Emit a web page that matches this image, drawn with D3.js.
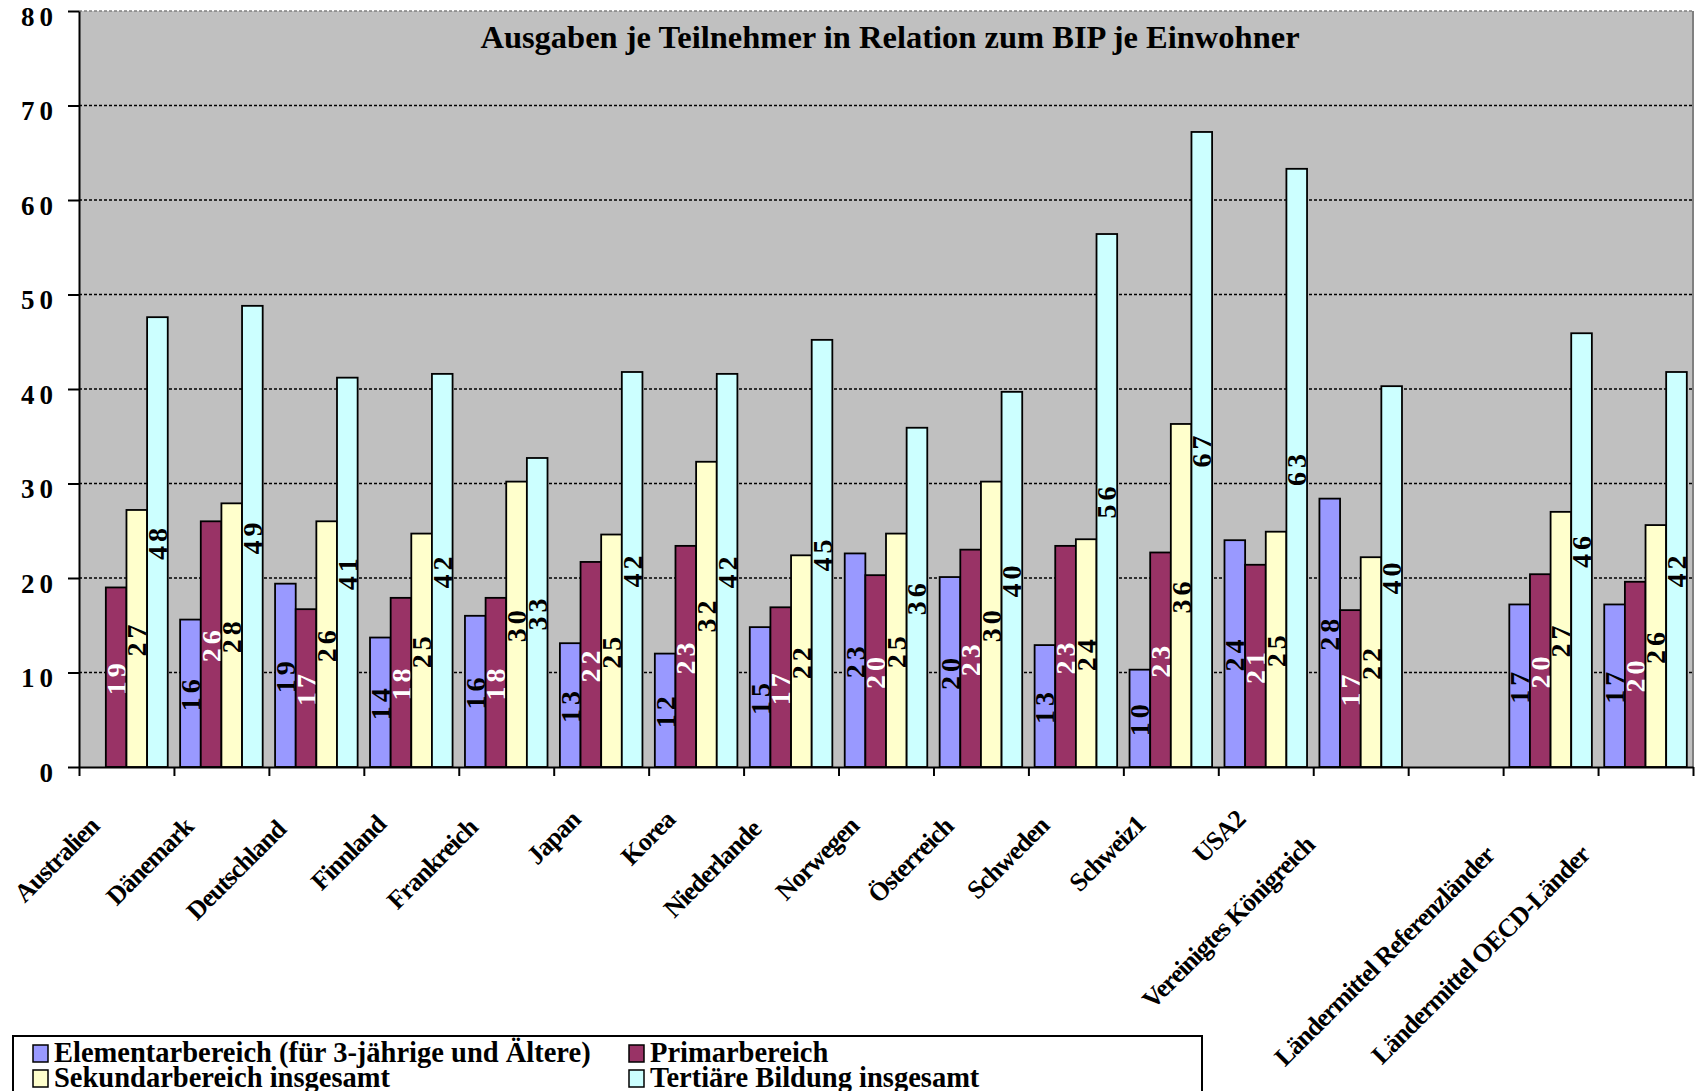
<!DOCTYPE html>
<html>
<head>
<meta charset="utf-8">
<script src="https://cdn.jsdelivr.net/npm/d3@7"></script>
<style>
  body { margin: 0; background: #fff; }
  svg { display: block; font-family: "Liberation Serif", "Times New Roman", serif; font-weight: bold; }
</style>
</head>
<body>
<svg width="1698" height="1091"></svg>
<script>
var categories = ["Australien", "Dänemark", "Deutschland", "Finnland", "Frankreich", "Japan", "Korea",
  "Niederlande", "Norwegen", "Österreich", "Schweden", "Schweiz1", "USA2", "Vereinigtes Königreich", "",
  "Ländermittel Referenzländer", "Ländermittel OECD-Länder"];

var elementar = [null, 15.6, 19.4, 13.7, 16.0, 13.1, 12.0, 14.8, 22.6, 20.1, 12.9, 10.3, 24.0, 28.4, null, 17.2, 17.2];
var primar    = [19.0, 26.0, 16.7, 17.9, 17.9, 21.7, 23.4, 16.9, 20.3, 23.0, 23.4, 22.7, 21.4, 16.6, null, 20.4, 19.6];
var sekundar  = [27.2, 27.9, 26.0, 24.7, 30.2, 24.6, 32.3, 22.4, 24.7, 30.2, 24.1, 36.3, 24.9, 22.2, null, 27.0, 25.6];
var tertiaer  = [47.6, 48.8, 41.2, 41.6, 32.7, 41.8, 41.6, 45.2, 35.9, 39.7, 56.4, 67.2, 63.3, 40.3, null, 45.9, 41.8];

var seriesNames = ["Elementarbereich (für 3-jährige und Ältere)", "Primarbereich",
  "Sekundarbereich insgesamt", "Tertiäre Bildung insgesamt"];
var yTicks = [0, 10, 20, 30, 40, 50, 60, 70, 80];
var title = "Ausgaben je Teilnehmer in Relation zum BIP je Einwohner";

// styles
var colors = ["#9999ff", "#993366", "#ffffcc", "#ccffff"];
var labelColors = ["#000", "#fff", "#000", "#000"];

var series = [elementar, primar, sekundar, tertiaer];

var svg = d3.select("svg"),
    plot = {left: 79, right: 1693, top: 11, bottom: 767};

var x0 = d3.scaleBand()
  .domain(d3.range(categories.length))
  .range([plot.left, plot.right]);

var x1 = d3.scaleBand()
  .domain(d3.range(series.length))
  .range([0, x0.bandwidth()])
  .paddingInner(0)
  .paddingOuter(0.3);

var y = d3.scaleLinear()
  .domain([0, 80])
  .range([plot.bottom, plot.top]);

// plot area
svg.append("rect")
  .attr("x", plot.left)
  .attr("y", plot.top)
  .attr("width", plot.right - plot.left)
  .attr("height", plot.bottom - plot.top)
  .attr("fill", "#c0c0c0");

svg.append("g")
  .selectAll("line")
  .data(yTicks.filter(function(t) { return t > 0; }))
  .enter().append("line")
    .attr("x1", plot.left)
    .attr("x2", plot.right)
    .attr("y1", function(d) { return y(d); })
    .attr("y2", function(d) { return y(d); })
    .attr("stroke", function(d) { return d === 80 ? "#808080" : "#000"; })
    .attr("stroke-width", 1.3)
    .attr("stroke-dasharray", "3,2");

svg.append("line")
  .attr("x1", plot.right)
  .attr("x2", plot.right)
  .attr("y1", plot.top)
  .attr("y2", plot.bottom)
  .attr("stroke", "#808080")
  .attr("stroke-width", 2);

// title
svg.append("text")
  .attr("x", 890)
  .attr("y", 48)
  .attr("text-anchor", "middle")
  .style("font-size", "32.5px")
  .text(title);

// bars
var groups = svg.append("g")
  .selectAll("g")
  .data(series)
  .enter().append("g");

groups.selectAll("rect")
  .data(function(values, s) {
    return values.map(function(v, i) { return {s: s, i: i, v: v}; })
                 .filter(function(d) { return d.v !== null; });
  })
  .enter().append("rect")
    .attr("x", function(d) { return x0(d.i) + x1(d.s); })
    .attr("y", function(d) { return y(d.v); })
    .attr("width", x1.bandwidth())
    .attr("height", function(d) { return y(0) - y(d.v); })
    .attr("fill", function(d) { return colors[d.s]; })
    .attr("stroke", "#000")
    .attr("stroke-width", 1.8);

// value labels
groups.selectAll("text")
  .data(function(values, s) {
    return values.map(function(v, i) { return {s: s, i: i, v: v}; })
                 .filter(function(d) { return d.v !== null; });
  })
  .enter().append("text")
    .attr("transform", function(d) {
      var cx = x0(d.i) + x1(d.s) + x1.bandwidth() / 2,
          cy = (y(d.v) + y(0)) / 2;
      return "translate(" + cx + "," + cy + ") rotate(-90)";
    })
    .attr("text-anchor", "middle")
    .attr("dy", "0.34em")
    .attr("fill", function(d) { return labelColors[d.s]; })
    .style("font-size", "28px")
    .style("letter-spacing", "4px")
    .text(function(d) { return d3.format(".0f")(d.v); });

// y axis
var yAxis = svg.append("g")
  .attr("transform", "translate(" + plot.left + ",0)")
  .call(d3.axisLeft(y).tickValues(yTicks).tickSize(11).tickSizeOuter(0).tickPadding(10));

yAxis.select(".domain").attr("stroke", "#000").attr("stroke-width", 2);
yAxis.selectAll(".tick line").attr("stroke", "#000").attr("stroke-width", 2);
yAxis.selectAll(".tick text")
  .attr("dy", "0.52em")
  .attr("fill", "#000")
  .style("font-family", "Liberation Serif")
  .style("font-weight", "bold")
  .style("font-size", "27px")
  .style("letter-spacing", "5px");

// x axis: ticks between categories
var xEdge = d3.scaleLinear()
  .domain([0, categories.length])
  .range([plot.left, plot.right]);

var xAxis = svg.append("g")
  .attr("transform", "translate(0," + plot.bottom + ")")
  .call(d3.axisBottom(xEdge).tickValues(d3.range(categories.length + 1)).tickSize(9).tickSizeOuter(0).tickFormat(""));

xAxis.select(".domain").attr("stroke", "#000").attr("stroke-width", 2);
xAxis.selectAll(".tick line").attr("stroke", "#000").attr("stroke-width", 2);

// category labels, rotated
svg.append("g")
  .selectAll("text")
  .data(categories.map(function(c, i) { return {c: c, i: i}; }).filter(function(d) { return d.c !== ""; }))
  .enter().append("text")
    .attr("transform", function(d) {
      var cx = x0(d.i) + x0.bandwidth() / 2;
      return "translate(" + (cx - 10) + "," + (plot.bottom + 45) + ") rotate(-45)";
    })
    .attr("text-anchor", "end")
    .style("font-size", "26px")
    .style("letter-spacing", "-1px")
    .text(function(d) { return d.c; })
    .attr("x", function() { return -0.212 * this.getComputedTextLength(); });

// legend
var legend = svg.append("g");

legend.append("rect")
  .attr("x", 13)
  .attr("y", 1036)
  .attr("width", 1189)
  .attr("height", 80)
  .attr("fill", "#fff")
  .attr("stroke", "#000")
  .attr("stroke-width", 2);

var items = legend.selectAll("g.item")
  .data(seriesNames)
  .enter().append("g")
    .attr("class", "item")
    .attr("transform", function(d, i) {
      return "translate(" + (i % 2 === 0 ? 33 : 629) + "," + (1045 + Math.floor(i / 2) * 25) + ")";
    });

items.append("rect")
  .attr("width", 15)
  .attr("height", 17)
  .attr("fill", function(d, i) { return colors[i]; })
  .attr("stroke", "#000")
  .attr("stroke-width", 1.5);

items.append("text")
  .attr("x", 21)
  .attr("y", 17)
  .style("font-size", "28.5px")
  .text(function(d) { return d; });
</script>
</body>
</html>
